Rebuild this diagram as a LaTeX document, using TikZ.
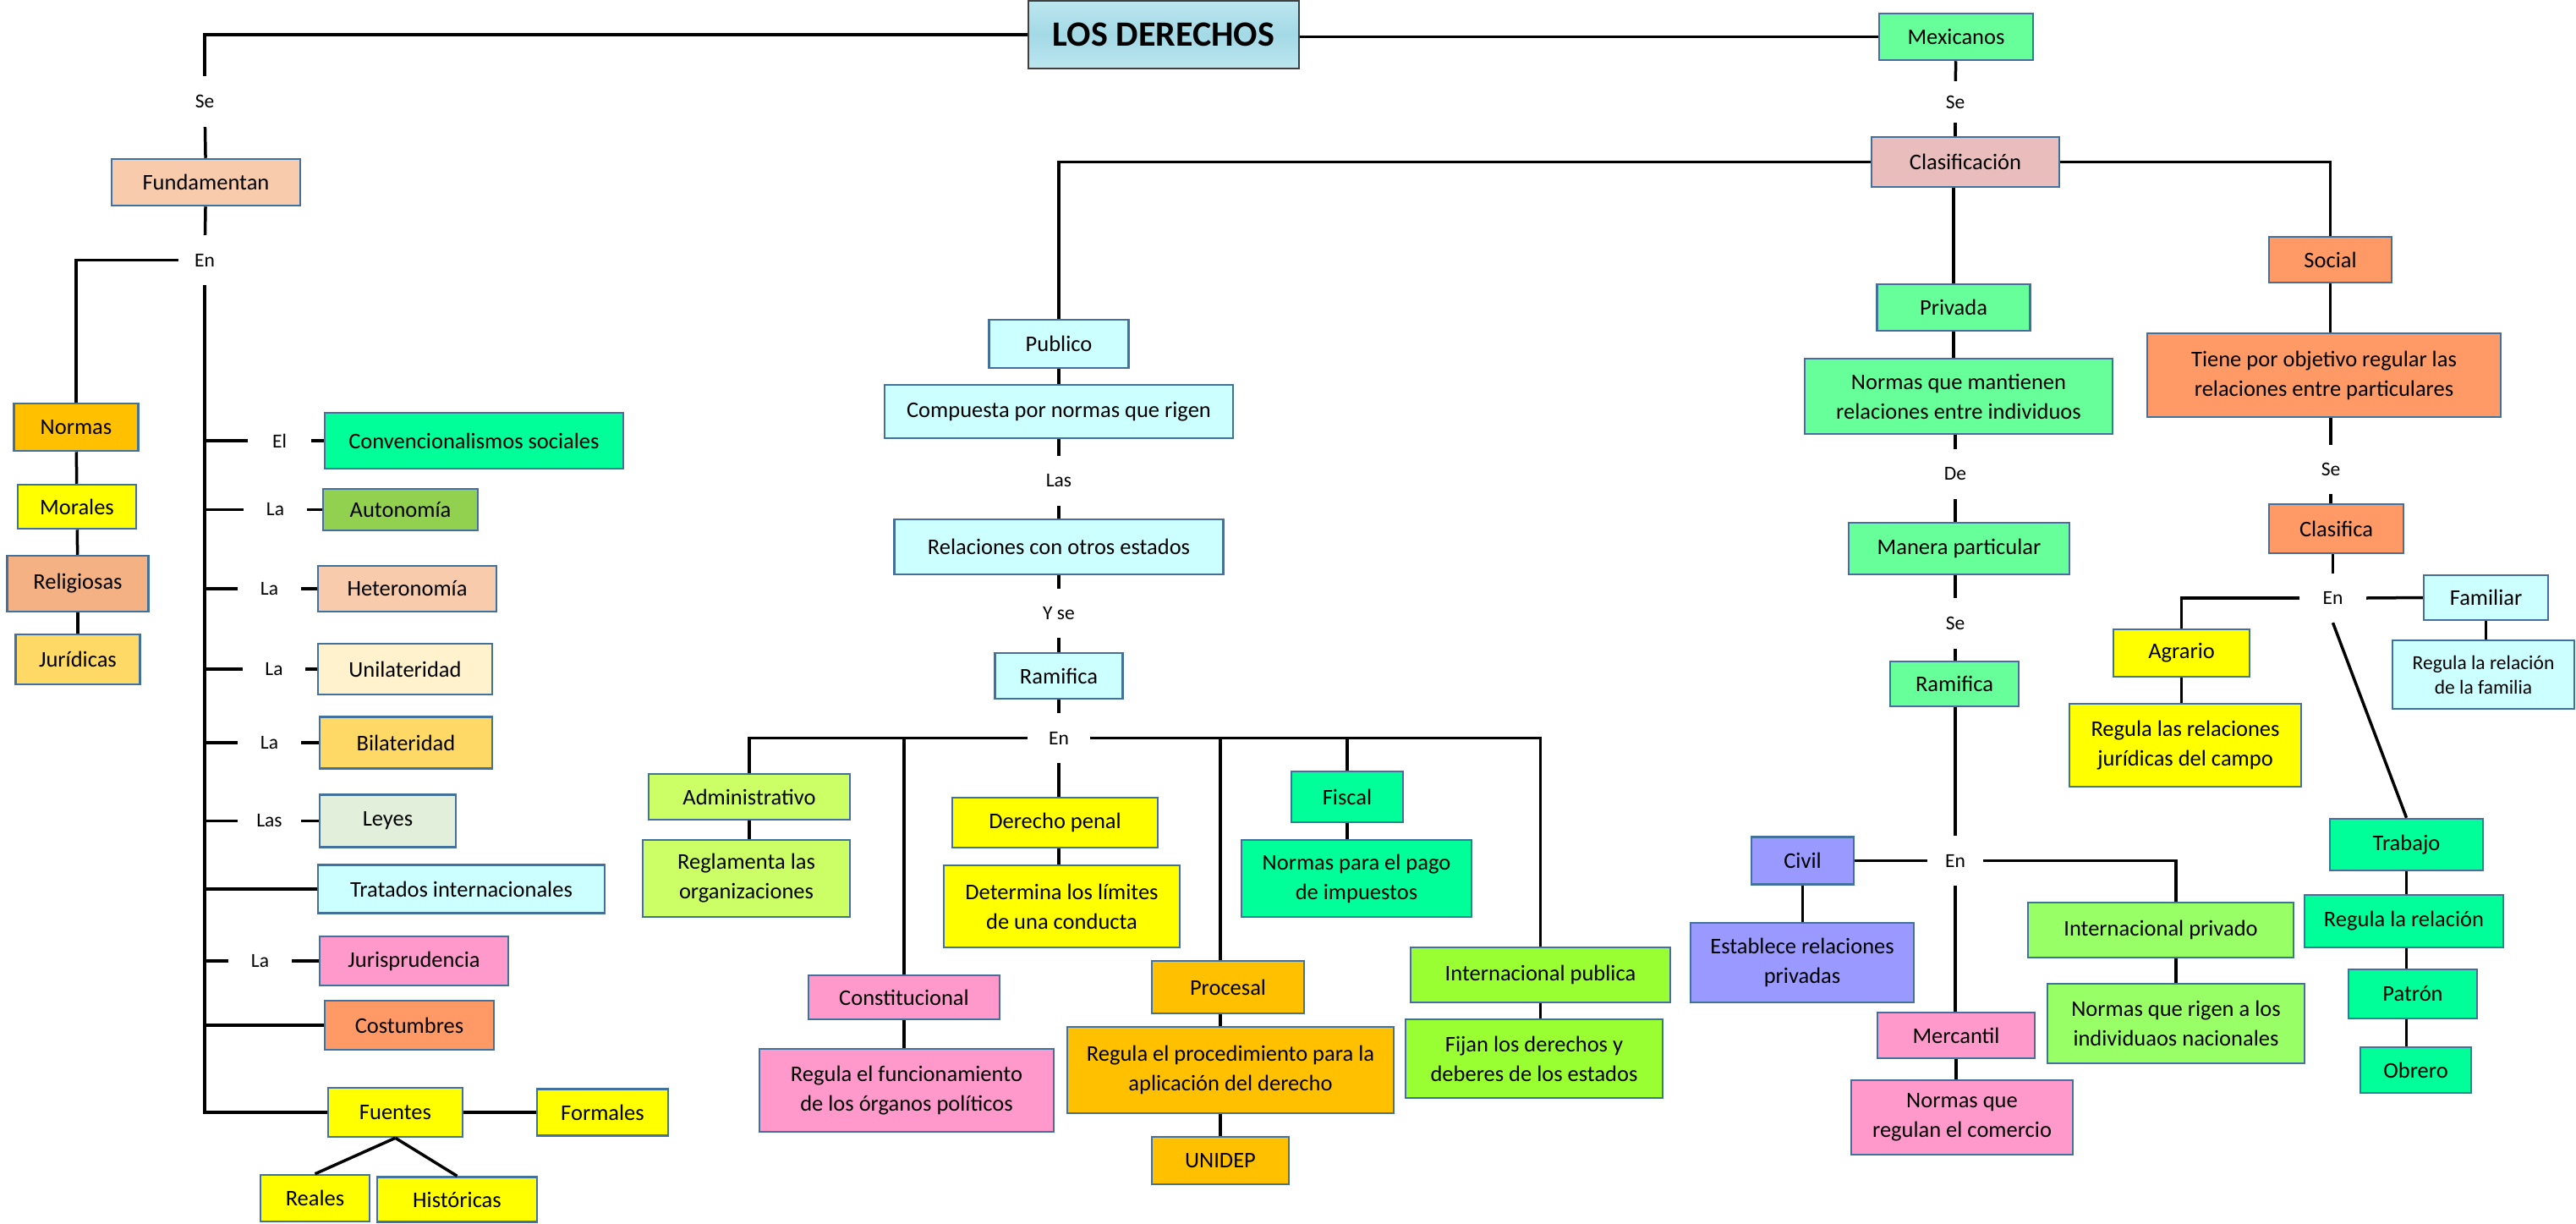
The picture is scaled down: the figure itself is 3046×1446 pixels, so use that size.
\documentclass[tikz,border=0pt]{standalone}
\usepackage{fontspec}
\setmainfont{Carlito}
\definecolor{cBorder}{HTML}{41719C}
\definecolor{cTitleBorder}{HTML}{3F3F3F}
\definecolor{cAqua}{HTML}{BCE6EF}
\definecolor{cAquaDeep}{HTML}{A3D9E6}
\definecolor{cRose}{HTML}{E8BDBC}
\definecolor{cPeach}{HTML}{F8CBAD}
\definecolor{cAmber}{HTML}{FFC000}
\definecolor{cYellow}{HTML}{FFFF00}
\definecolor{cSalmon}{HTML}{F4B183}
\definecolor{cGold}{HTML}{FFD966}
\definecolor{cSpring}{HTML}{00FF99}
\definecolor{cLeaf}{HTML}{92D050}
\definecolor{cCream}{HTML}{FFF2CC}
\definecolor{cMint}{HTML}{E2EFDA}
\definecolor{cIce}{HTML}{CCFFFF}
\definecolor{cPink}{HTML}{FF99CC}
\definecolor{cCoral}{HTML}{FF9966}
\definecolor{cLime}{HTML}{CCFF66}
\definecolor{cChart}{HTML}{99FF33}
\definecolor{cJade}{HTML}{66FF99}
\definecolor{cLilac}{HTML}{9999FF}
\definecolor{cPistachio}{HTML}{99FF66}

\begin{document}
\begin{tikzpicture}[x=1pt, y=-1pt,
        box/.style 2 args = {rectangle, draw=cBorder, line width=2.5pt, inner sep=2pt,
                             minimum width=#1pt, minimum height=#2pt, align=center,
                             font=\fontsize{26.5}{35}\selectfont},
        lbl/.style 2 args = {rectangle, inner sep=0pt, minimum width=#1pt,
                             minimum height=#2pt, font=\fontsize{23.5}{28}\selectfont},
       conn/.style = {line width=3.5pt}
                        ]
\path[use as bounding box, fill=white] (0,0) rectangle (3046,1446);

% title
\node (titulo) [box={320}{80}, draw=cTitleBorder, top color=cAqua, bottom color=cAqua,
                middle color=cAquaDeep, font=\fontsize{42}{48}\selectfont\bfseries]
      at (1376,41) {LOS DERECHOS};

% left: fundamentan
\node (seA)      [lbl={60}{60}] at (242,120) {Se};
\node (fund)     [box={223}{55}, fill=cPeach] at (243.5,215.5) {Fundamentan};
\node (enA)      [lbl={62}{59}] at (242,307.5) {En};
\node (normas)   [box={147}{56}, fill=cAmber] at (90,505) {Normas};
\node (morales)  [box={140}{52}, fill=cYellow] at (91,599) {Morales};
\node (relig)    [box={167}{66}, fill=cSalmon] at (92,690) {Religiosas};
\node (jurid)    [box={147}{59}, fill=cGold] at (92,779.5) {Jurídicas};
\node (elA)      [lbl={75}{40}] at (330.5,521) {El};
\node (conv)     [box={353}{66}, fill=cSpring] at (560.5,521) {Convencionalismos sociales};
\node (laA)      [lbl={75}{40}] at (325.5,602.5) {La};
\node (auto)     [box={183}{49}, fill=cLeaf] at (473.5,602.5) {Autonomía};
\node (laB)      [lbl={75}{40}] at (318.5,696) {La};
\node (hetero)   [box={211}{54}, fill=cPeach] at (481.5,696) {Heteronomía};
\node (laC)      [lbl={74}{40}] at (324,791) {La};
\node (unil)     [box={206}{60}, fill=cCream] at (479,791) {Unilateridad};
\node (laD)      [lbl={75}{40}] at (318.5,878) {La};
\node (bilat)    [box={204}{61}, fill=cGold] at (480,878) {Bilateridad};
\node (lasA)     [lbl={75}{40}] at (318.5,970.5) {Las};
\node (leyes)    [box={161}{62}, fill=cMint] at (458.5,970.5) {Leyes};
\node (trat)     [box={339}{57}, fill=cIce] at (545.5,1051) {Tratados internacionales};
\node (laE)      [lbl={75}{40}] at (307.5,1136) {La};
\node (juris)    [box={223}{58}, fill=cPink] at (489.5,1136) {Jurisprudencia};
\node (cost)     [box={200}{58}, fill=cCoral] at (484,1212) {Costumbres};
\node (fuentes)  [box={159}{58}, fill=cYellow] at (467.5,1315) {Fuentes};
\node (formales) [box={155}{55}, fill=cYellow] at (712.5,1315) {Formales};
\node (reales)   [box={129}{55}, fill=cYellow] at (372.5,1416.5) {Reales};
\node (hist)     [box={189}{53}, fill=cYellow] at (540.5,1418) {Históricas};

% middle: publico
\node (clasif)   [box={222}{59}, fill=cRose] at (2324,191.5) {Clasificación};
\node (publico)  [box={165}{57}, fill=cIce] at (1252,406.5) {Publico};
\node (comp)     [box={412}{63}, fill=cIce] at (1252,486.5) {Compuesta por normas que rigen};
\node (lasB)     [lbl={60}{59}] at (1252,568.5) {Las};
\node (relac)    [box={389}{65}, fill=cIce] at (1252,646.5) {Relaciones con otros estados};
\node (yse)      [lbl={60}{58}] at (1252,725) {Y se};
\node (ramL)     [box={151}{54}, fill=cIce] at (1252,799) {Ramifica};
\node (enL)      [lbl={73}{59}] at (1252,872.5) {En};
\node (admin)    [box={238}{54}, fill=cLime] at (886,942) {Administrativo};
\node (reglam)   [box={245}{91}, fill=cLime] at (882.5,1038.5) {Reglamenta las\\organizaciones};
\node (const)    [box={226}{52}, fill=cPink] at (1069,1179) {Constitucional};
\node (regfun)   [box={348}{98}, fill=cPink] at (1072,1289) {Regula el funcionamiento\\de los órganos políticos};
\node (penal)    [box={243}{59}, fill=cYellow] at (1247.5,972.5) {Derecho penal};
\node (determ)   [box={279}{97}, fill=cYellow] at (1255.5,1071.5) {Determina los límites\\de una conducta};
\node (procesal) [box={180}{62}, fill=cAmber] at (1452,1167) {Procesal};
\node (regproc)  [box={386}{102}, fill=cAmber] at (1455,1265) {Regula el procedimiento para la\\aplicación del derecho};
\node (unidep)   [box={162}{56}, fill=cAmber] at (1443,1372) {UNIDEP};
\node (fiscal)   [box={132}{60}, fill=cSpring] at (1593,942) {Fiscal};
\node (pago)     [box={272}{91}, fill=cSpring] at (1604,1038.5) {Normas para el pago\\de impuestos};
\node (intpub)   [box={307}{65}, fill=cChart] at (1821.5,1152.5) {Internacional publica};
\node (fijan)    [box={304}{93}, fill=cChart] at (1814,1251.5) {Fijan los derechos y\\deberes de los estados};

% right: privada
\node (mex)      [box={182}{55}, fill=cJade] at (2313,43.5) {Mexicanos};
\node (seB)      [lbl={60}{49}] at (2312,120.5) {Se};
\node (privada)  [box={181}{55}, fill=cJade] at (2310,363.5) {Privada};
\node (mant)     [box={364}{89}, fill=cJade] at (2316,468.5) {Normas que mantienen\\relaciones entre individuos};
\node (deR)      [lbl={60}{59}] at (2312,560.5) {De};
\node (manera)   [box={261}{61}, fill=cJade] at (2316.5,648.5) {Manera particular};
\node (seC)      [lbl={60}{60}] at (2312,737) {Se};
\node (ramR)     [box={152}{53}, fill=cJade] at (2311,808.5) {Ramifica};
\node (enR)      [lbl={66}{59}] at (2312,1017.5) {En};
\node (civil)    [box={121}{56}, fill=cLilac] at (2131.5,1017.5) {Civil};
\node (estab)    [box={264}{94}, fill=cLilac] at (2131,1138) {Establece relaciones\\privadas};
\node (intpriv)  [box={314}{65}, fill=cPistachio] at (2555,1099.5) {Internacional privado};
\node (rigen)    [box={304}{94}, fill=cPistachio] at (2573,1210) {Normas que rigen a los\\individuaos nacionales};
\node (merc)     [box={186}{54}, fill=cPink] at (2313,1224) {Mercantil};
\node (comerc)   [box={262}{88}, fill=cPink] at (2320,1321) {Normas que\\regulan el comercio};

% right: social
\node (social)   [box={145}{54}, fill=cCoral] at (2755.5,307) {Social};
\node (tiene)    [box={418}{99}, fill=cCoral] at (2748,443.5) {Tiene por objetivo regular las\\relaciones entre particulares};
\node (seD)      [lbl={60}{58}] at (2756,555) {Se};
\node (clasifica)[box={159}{58}, fill=cCoral] at (2762.5,625) {Clasifica};
\node (enS)      [lbl={79}{58}] at (2758.5,707) {En};
\node (agrario)  [box={161}{56}, fill=cYellow] at (2579.5,772) {Agrario};
\node (regcampo) [box={274}{98}, fill=cYellow] at (2584,881) {Regula las relaciones\\jurídicas del campo};
\node (familiar) [box={147}{53}, fill=cIce] at (2939.5,706.5) {Familiar};
\node (regfam)   [box={215}{81}, fill=cIce, font=\fontsize{23.5}{29}\selectfont] at (2936.5,797.5) {Regula la relación\\de la familia};
\node (trabajo)  [box={181}{61}, fill=cSpring] at (2845.5,998.5) {Trabajo};
\node (regrel)   [box={235}{62}, fill=cSpring] at (2842.5,1089) {Regula la relación};
\node (patron)   [box={152}{58}, fill=cSpring] at (2853,1175) {Patrón};
\node (obrero)   [box={131}{54}, fill=cSpring] at (2856.5,1265) {Obrero};

% connectors, left
\draw[conn] (titulo.west) -| (seA.north);
\draw[conn] (seA) -- (fund);
\draw[conn] (fund) -- (enA);
\draw[conn] (enA.west) -| (normas.north);
\draw[conn] (normas) -- (morales);
\draw[conn] (morales) -- (relig);
\draw[conn] (relig) -- (jurid);
\draw[conn] (enA.south) |- (fuentes.west);
\draw[conn] (enA.south |- elA.west) -- (elA.west);
\draw[conn] (elA.east) -- (conv.west);
\draw[conn] (enA.south |- laA.west) -- (laA.west);
\draw[conn] (laA.east) -- (auto.west);
\draw[conn] (enA.south |- laB.west) -- (laB.west);
\draw[conn] (laB.east) -- (hetero.west);
\draw[conn] (enA.south |- laC.west) -- (laC.west);
\draw[conn] (laC.east) -- (unil.west);
\draw[conn] (enA.south |- laD.west) -- (laD.west);
\draw[conn] (laD.east) -- (bilat.west);
\draw[conn] (enA.south |- lasA.west) -- (lasA.west);
\draw[conn] (lasA.east) -- (leyes.west);
\draw[conn] (enA.south |- trat.west) -- (trat.west);
\draw[conn] (enA.south |- laE.west) -- (laE.west);
\draw[conn] (laE.east) -- (juris.west);
\draw[conn] (enA.south |- cost.west) -- (cost.west);
\draw[conn] (fuentes) -- (formales);
\draw[conn] (fuentes.south) -- (reales.north);
\draw[conn] (fuentes.south) -- (hist.north);

% connectors, middle
\draw[conn] (titulo.east |- mex.west) -- (mex.west);
\draw[conn] (mex) -- (seB);
\draw[conn] (seB) -- (seB |- clasif.north);
\draw[conn] (clasif.west) -| (publico.north);
\draw[conn] (clasif.east) -| (social.north);
\draw[conn] (publico) -- (comp);
\draw[conn] (comp) -- (lasB);
\draw[conn] (lasB) -- (relac);
\draw[conn] (relac) -- (yse);
\draw[conn] (yse) -- (ramL);
\draw[conn] (ramL) -- (enL);
\draw[conn] (enL.west) -| (admin.north);
\draw[conn] (enL.east) -| (intpub.north);
\draw[conn] (enL.south) -- (enL.south |- penal.north);
\draw[conn] (const.north) -- (const.north |- enL.west);
\draw[conn] (enL.east -| unidep) -- (procesal.north -| unidep);
\draw[conn] (fiscal.north) -- (fiscal.north |- enL.east);
\draw[conn] (admin.south) -- (admin.south |- reglam.north);
\draw[conn] (const.south) -- (const.south |- regfun.north);
\draw[conn] (penal.south -| enL) -- (determ.north -| enL);
\draw[conn] (procesal.south -| unidep) -- (regproc.north -| unidep);
\draw[conn] (regproc.south -| unidep) -- (unidep.north);
\draw[conn] (fiscal.south) -- (fiscal.south |- pago.north);
\draw[conn] (intpub.south) -- (intpub.south |- fijan.north);

% connectors, right
\draw[conn] (privada.north) -- (privada.north |- clasif.south);
\draw[conn] (privada.south) -- (privada.south |- mant.north);
\draw[conn] (deR) -- (deR |- mant.south);
\draw[conn] (deR) -- (deR |- manera.north);
\draw[conn] (seC) -- (seC |- manera.south);
\draw[conn] (seC) -- (seC |- ramR.north);
\draw[conn] (enR) -- (enR |- ramR.south);
\draw[conn] (enR) -- (enR |- merc.north);
\draw[conn] (enR.west) -- (civil.east);
\draw[conn] (enR.east) -| (intpriv.north -| rigen);
\draw[conn] (intpriv.south -| rigen) -- (rigen.north);
\draw[conn] (civil.south) -- (civil.south |- estab.north);
\draw[conn] (merc.south) -- (merc.south |- comerc.north);
\draw[conn] (social.south) -- (social.south |- tiene.north);
\draw[conn] (seD) -- (seD |- tiene.south);
\draw[conn] (seD) -- (seD |- clasifica.north);
\draw[conn] (enS) -- (enS |- clasifica.south);
\draw[conn] (enS.west) -| (agrario.north);
\draw[conn] (enS.east) -- (familiar.west);
\draw[conn] (enS.south) -- (trabajo.north);
\draw[conn] (agrario.south) -- (agrario.south |- regcampo.north);
\draw[conn] (familiar.south) -- (familiar.south |- regfam.north);
\draw[conn] (trabajo.south) -- (trabajo.south |- regrel.north);
\draw[conn] (regrel.south -| trabajo) -- (patron.north -| trabajo);
\draw[conn] (patron.south -| trabajo) -- (obrero.north -| trabajo);
\end{tikzpicture}
\end{document}
